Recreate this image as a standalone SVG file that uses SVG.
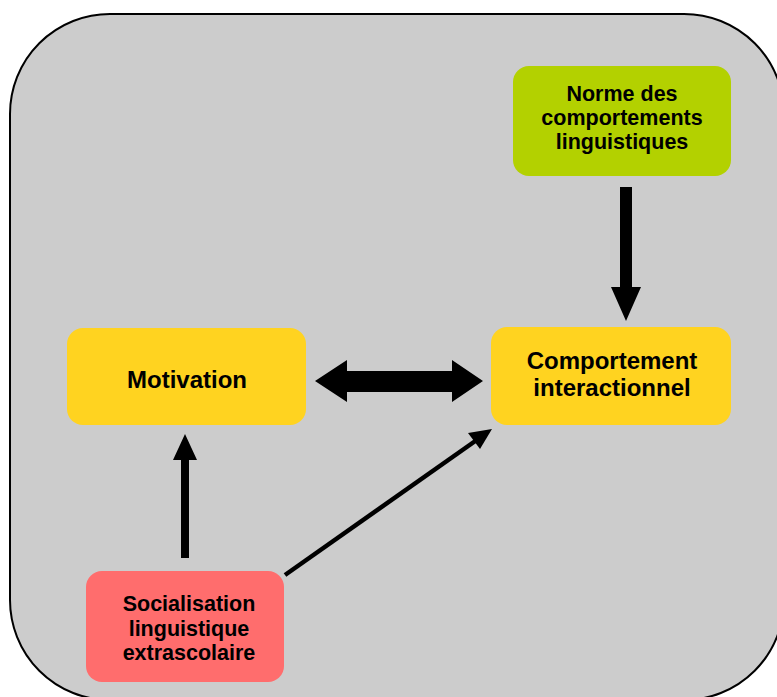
<svg xmlns="http://www.w3.org/2000/svg" width="777" height="697" viewBox="0 0 777 697">
<style>
.t{font-family:"Liberation Sans",Arial,sans-serif;font-weight:bold;fill:#000;text-anchor:middle}
.s{font-size:21.5px}
.l{font-size:24px}
.arr{fill:#000}
</style>
<rect x="0" y="0" width="777" height="697" fill="#ffffff"/>
<rect id="frame" x="10" y="14" width="774" height="686" rx="100" ry="100" fill="#cccccc" stroke="#000" stroke-width="2"/>
<g id="connectors">
<polygon class="arr" points="620,187 632,187 632,287 641,287 626,321 611,287 620,287"/>
<polygon class="arr" points="315,381 347,360 347,371 452,371 452,360 483,381 452,402 452,392 347,392 347,402"/>
<polygon class="arr" points="181,558 189,558 189,460 197,460 185,434 173,460 181,460"/>
<line x1="285" y1="575" x2="476" y2="440.5" stroke="#000" stroke-width="4.5"/>
<polygon class="arr" points="492,429 480,449 468,433"/>
</g>
<g id="norme">
<rect x="513" y="66" width="218" height="110" rx="16" fill="#b3d100"/>
<text class="t s" x="622" y="101">Norme des</text>
<text class="t s" x="622" y="125">comportements</text>
<text class="t s" x="622" y="149">linguistiques</text>
</g>
<g id="motivation">
<rect x="67" y="328" width="239" height="97" rx="16" fill="#ffd320"/>
<text class="t l" x="187" y="388">Motivation</text>
</g>
<g id="comportement">
<rect x="491" y="327" width="240" height="98" rx="16" fill="#ffd320"/>
<text class="t l" x="612" y="369">Comportement</text>
<text class="t l" x="612" y="396">interactionnel</text>
</g>
<g id="socialisation">
<rect x="86" y="571" width="198" height="111" rx="16" fill="#ff6d6d"/>
<text class="t s" x="189" y="611">Socialisation</text>
<text class="t s" x="189" y="635.5">linguistique</text>
<text class="t s" x="189" y="660">extrascolaire</text>
</g>
</svg>
